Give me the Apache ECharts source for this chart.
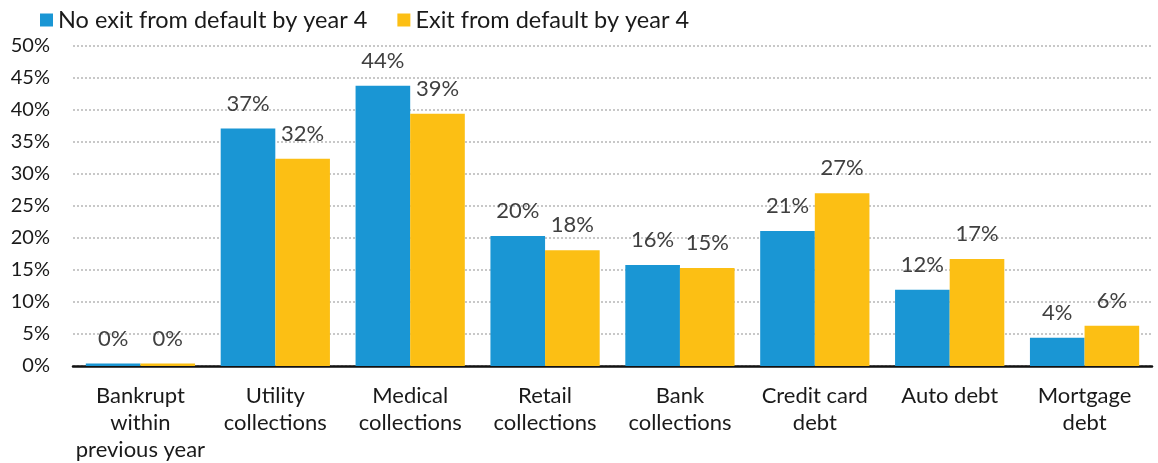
<!DOCTYPE html>
<html>
<head>
<meta charset="utf-8">
<script src="https://cdn.jsdelivr.net/npm/echarts@6/dist/echarts.min.js"></script>
<style>
  html, body { margin: 0; padding: 0; background: #fff; }
  #chart { width: 1158px; height: 463px; }
</style>
</head>
<body>
<div id="chart"></div>
<script>
// Share of borrowers with each credit event, by default exit status
const categories = [
  'Bankrupt\nwithin\nprevious year',
  'Utility\ncollections',
  'Medical\ncollections',
  'Retail\ncollections',
  'Bank\ncollections',
  'Credit card\ndebt',
  'Auto debt',
  'Mortgage\ndebt'
];
const seriesNames = ['No exit from default by year 4', 'Exit from default by year 4'];
const noExit = [0.4, 37.1, 43.8, 20.3, 15.8, 21.1, 11.9, 4.4];
const exitDefault = [0.4, 32.4, 39.4, 18.1, 15.3, 27.0, 16.7, 6.3];
const yTicks = { min: 0, max: 50, interval: 5 };

const FONT = 'Lato, "Noto Sans", sans-serif';
const colors = ['#1a96d4', '#fcbf14'];

const chart = echarts.init(document.getElementById('chart'), null, { renderer: 'canvas' });

const labelCfg = {
  show: true,
  position: 'top',
  distance: 14,
  color: '#404040',
  fontFamily: FONT,
  fontSize: 22,
  formatter: p => Math.round(p.value) + '%'
};

chart.setOption({
  animation: false,
  textStyle: { fontFamily: FONT },
  color: colors,
  legend: {
    left: 35,
    top: 3,
    itemWidth: 13,
    itemHeight: 13,
    itemGap: 30,
    icon: 'rect',
    textStyle: { fontFamily: FONT, fontSize: 23.5, color: '#1a1a1a', padding: [0, 0, 0, 0] },
    data: seriesNames
  },
  grid: { left: 73, right: 6, top: 46, bottom: 95, containLabel: false },
  xAxis: {
    type: 'category',
    data: categories,
    axisTick: { show: false },
    axisLine: { lineStyle: { color: '#111', width: 2.5 } },
    axisLabel: {
      interval: 0,
      margin: 16,
      fontFamily: FONT,
      fontSize: 22,
      color: '#1a1a1a',
      lineHeight: 27
    }
  },
  yAxis: {
    type: 'value',
    min: yTicks.min,
    max: yTicks.max,
    interval: yTicks.interval,
    axisLine: { show: false },
    axisTick: { show: false },
    axisLabel: {
      margin: 23,
      fontFamily: FONT,
      fontSize: 20,
      color: '#1a1a1a',
      formatter: v => v + '%'
    },
    splitLine: { lineStyle: { color: '#c8c8c8', width: 2, type: [2, 2] } }
  },
  series: [
    {
      name: seriesNames[0],
      type: 'bar',
      data: noExit,
      barGap: '0%',
      barCategoryGap: '19%',
      label: labelCfg
    },
    {
      name: seriesNames[1],
      type: 'bar',
      data: exitDefault,
      barGap: '0%',
      barCategoryGap: '19%',
      label: labelCfg
    }
  ]
});
</script>
</body>
</html>
